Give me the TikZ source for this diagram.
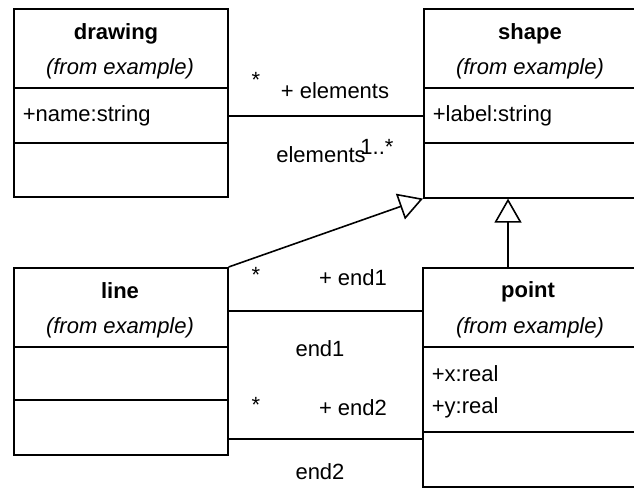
\documentclass[tikz,border=0pt]{standalone}
\usepackage{fontspec}
\setmainfont{Liberation Sans}
\usetikzlibrary{arrows.meta}
\newcommand{\umlfont}{\fontsize{22}{26}\selectfont}
\tikzset{
  classbox/.style={draw, anchor=north west, inner sep=0pt},
  classname/.style={font=\umlfont\bfseries, inner sep=0pt},
  classpkg/.style={font=\umlfont\itshape, inner sep=0pt},
  member/.style={font=\umlfont, anchor=west, inner sep=0pt},
  role/.style={font=\umlfont, inner sep=0pt},
  inherit/.style={-{Triangle[open,length=24pt,width=27pt]}},
}
\begin{document}
\begin{tikzpicture}[x=1pt,y=-1pt,line width=1.6pt]
    \useasboundingbox (0,0) rectangle (634,487);
    \clip (0,0) rectangle (634,487);
    % classes
    \node[classbox, minimum width=214pt, minimum height=188pt] (drawing) at (13,8) {};
    \node[classbox, minimum width=215pt, minimum height=189pt] (shape) at (423,8) {};
    \node[classbox, minimum width=214pt, minimum height=187pt] (line) at (13,267) {};
    \node[classbox, minimum width=216pt, minimum height=219pt] (point) at (422,267) {};
    \draw (drawing.west |- 0,88) -- (drawing.east |- 0,88);
    \draw (drawing.west |- 0,143) -- (drawing.east |- 0,143);
    \draw (shape.west |- 0,88) -- (shape.east |- 0,88);
    \draw (shape.west |- 0,143) -- (shape.east |- 0,143);
    \draw (line.west |- 0,347) -- (line.east |- 0,347);
    \draw (line.west |- 0,400) -- (line.east |- 0,400);
    \draw (point.west |- 0,347) -- (point.east |- 0,347);
    \draw (point.west |- 0,432) -- (point.east |- 0,432);
    \node[classname] (drawingname) at (116,34) {drawing};
    \node[classpkg] (drawingpkg) at (120,69) {(from example)};
    \node[member] (drawingattr) at (22,116) {+name:string};
    \node[classname] (shapename) at (530,34) {shape};
    \node[classpkg] (shapepkg) at (530,69) {(from example)};
    \node[member] (shapeattr) at (432,116) {+label:string};
    \node[classname] (linename) at (120,291) {line};
    \node[classpkg] (linepkg) at (120,328) {(from example)};
    \node[classname] (pointname) at (528,292) {point};
    \node[classpkg] (pointpkg) at (530,328) {(from example)};
    \node[member] (pointx) at (431,374) {+x:real};
    \node[member] (pointy) at (431,408) {+y:real};
    % associations
    \coordinate (rowa) at (0,116);
    \coordinate (rowb) at (0,311);
    \coordinate (rowc) at (0,439);
    \draw (drawing.east |- rowa) -- (shape.west |- rowa);
    \draw (line.east |- rowb) -- (point.west |- rowb);
    \draw (line.east |- rowc) -- (point.west |- rowc);
    \node[role] (elemmult) at (256,80) {*};
    \node[role] (elemrole) at (335,91) {+ elements};
    \node[role] (elemname) at (321,155) {elements};
    \node[role] (elemrange) at (377,147) {1..*};
    \node[role] (endamult) at (256,275) {*};
    \node[role] (endarole) at (353,278) {+ end1};
    \node[role] (endaname) at (320,349) {end1};
    \node[role] (endbmult) at (256,405) {*};
    \node[role] (endbrole) at (353,408) {+ end2};
    \node[role] (endbname) at (320,472) {end2};
    % generalisations
    \coordinate (gx) at (508,0);
    \draw[inherit] (line.north east) -- (shape.south west);
    \draw[inherit] (point.north -| gx) -- (shape.south -| gx);
\end{tikzpicture}
\end{document}
